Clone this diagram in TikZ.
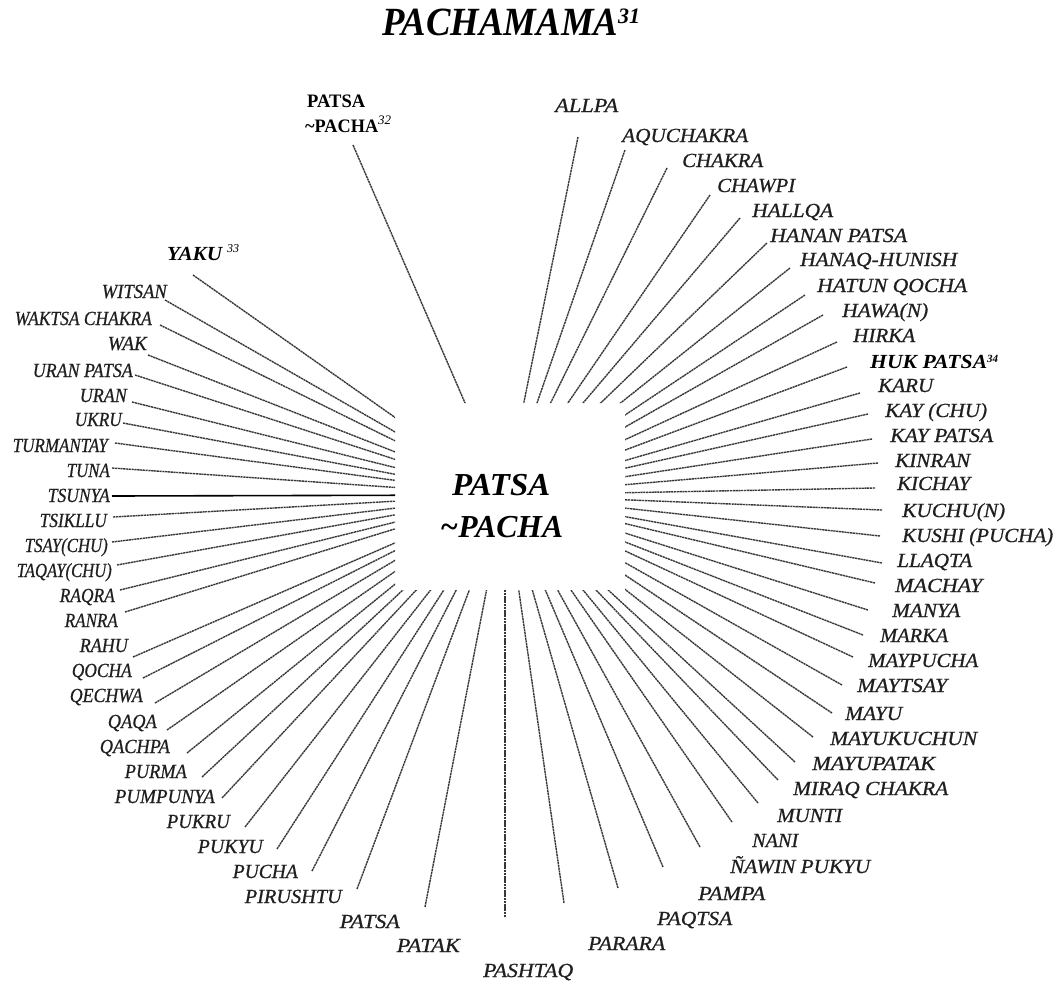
\documentclass[tikz,border=0pt]{standalone}
\usepackage{fontspec}
\setmainfont{Liberation Serif}
\newfontface\labfont{Liberation Serif Italic}[FakeBold=0.7]
\usepackage{graphicx}
\newcommand{\labR}[5]{%
  \pgfmathsetlengthmacro\labw{#3-#2}%
  \node[lab,anchor=base west] (#1) at (#2,#4) {\resizebox{\labw}{\height}{#5}};}
\newcommand{\labL}[5]{%
  \pgfmathsetlengthmacro\labw{#3-#2}%
  \node[lab,anchor=base east] (#1) at (#3,#4) {\resizebox{\labw}{\height}{#5}};}
\newcommand{\rayTo}[3]{\coordinate (r#1) at (#2,#3); \draw[ray] (r#1) -- (C);}
\begin{document}
\begin{tikzpicture}[x=1pt,y=-1pt,
  ray/.style={draw=black!78, line width=1.4pt, dash pattern=on 2.2pt off 0.6pt},
  lab/.style={inner sep=0pt, font=\fontsize{20}{24}\selectfont\labfont, text=black!88},
  bolab/.style={inner sep=0pt, text=black}]
\useasboundingbox (0,0) rectangle (1060,983);
\coordinate (C) at (505,495);
\begin{scope}
\clip (0,0) -- (1060,0) -- (1060,983) -- (0,983) -- cycle
      (395,403) -- (395,590) -- (625,590) -- (625,403) -- cycle;
\rayTo{1}{353}{145}
\rayTo{2}{193}{275}
\rayTo{3}{165}{300}
\rayTo{4}{160}{325}
\rayTo{5}{148}{355}
\rayTo{6}{135}{375}
\rayTo{7}{132}{402}
\rayTo{8}{123}{423}
\rayTo{9}{115}{443}
\rayTo{10}{112}{468}
\coordinate (r11) at (112,496); \draw[black, line width=1.6pt] (r11) -- (C);
\rayTo{12}{113}{517}
\rayTo{13}{112}{542}
\rayTo{14}{117}{565}
\rayTo{15}{120}{590}
\rayTo{16}{125}{612}
\rayTo{17}{133}{657}
\rayTo{18}{143}{678}
\rayTo{19}{155}{703}
\rayTo{20}{167}{730}
\rayTo{21}{187}{753}
\rayTo{22}{202}{777}
\rayTo{23}{222}{798}
\rayTo{24}{245}{827}
\rayTo{25}{277}{849}
\rayTo{26}{312}{871}
\rayTo{27}{357}{889}
\rayTo{28}{425}{907}
\rayTo{29}{505}{917}
\rayTo{30}{564}{903}
\rayTo{31}{618}{888}
\rayTo{32}{663}{867}
\rayTo{33}{700}{847}
\rayTo{34}{732}{822}
\rayTo{35}{758}{803}
\rayTo{36}{778}{780}
\rayTo{37}{795}{762}
\rayTo{38}{813}{737}
\rayTo{39}{832}{713}
\rayTo{40}{842}{685}
\rayTo{41}{853}{657}
\rayTo{42}{863}{635}
\rayTo{43}{868}{610}
\rayTo{44}{875}{583}
\rayTo{45}{882}{563}
\rayTo{46}{880}{536}
\rayTo{47}{882}{510}
\rayTo{48}{875}{488}
\rayTo{49}{878}{463}
\rayTo{50}{872}{439}
\rayTo{51}{868}{414}
\rayTo{52}{860}{393}
\rayTo{53}{847}{367}
\rayTo{54}{837}{342}
\rayTo{55}{823}{315}
\rayTo{56}{805}{295}
\rayTo{57}{790}{268}
\rayTo{58}{767}{243}
\rayTo{59}{740}{218}
\rayTo{60}{710}{195}
\rayTo{61}{667}{168}
\rayTo{62}{625}{150}
\rayTo{63}{578}{137}
\end{scope}

% title
\node[bolab, anchor=base west] (title) at (382,35)
  {\fontsize{40}{44}\selectfont\bfseries\itshape\resizebox{236pt}{\height}{PACHAMAMA}\raisebox{12pt}{\fontsize{22}{22}\selectfont 31}};

% centre
\node[bolab, anchor=base west] (cA) at (452,495)
  {\fontsize{32}{36}\selectfont\bfseries\itshape\resizebox{98pt}{\height}{PATSA}};
\node[bolab, anchor=base west] (cB) at (440,537)
  {\fontsize{32}{36}\selectfont\bfseries\itshape\resizebox{123pt}{\height}{\textasciitilde PACHA}};

% top special labels
\node[bolab, anchor=base west] (tA) at (307,107)
  {\fontsize{19}{22}\selectfont\bfseries\resizebox{58pt}{\height}{PATSA}};
\node[bolab, anchor=base west] (tB) at (305,132)
  {\fontsize{19}{22}\selectfont\bfseries\resizebox{73pt}{\height}{\textasciitilde PACHA}\raisebox{8pt}{\fontsize{13}{13}\selectfont\mdseries\itshape 32}};
\node[bolab, anchor=base west] (yaku) at (167,260)
  {\fontsize{20}{24}\selectfont\bfseries\itshape\resizebox{55pt}{\height}{YAKU}\hspace{5pt}\raisebox{8pt}{\fontsize{12}{12}\selectfont\mdseries 33}};
\node[bolab, anchor=base west] (huk) at (870,368)
  {\fontsize{20}{24}\selectfont\bfseries\itshape\resizebox{117pt}{\height}{HUK PATSA}\raisebox{6pt}{\fontsize{11}{11}\selectfont 34}};

% right labels
\labR{allpa}{555}{618}{112}{ALLPA}
\labR{aquchakra}{622}{748}{142}{AQUCHAKRA}
\labR{chakra}{682}{763}{167}{CHAKRA}
\labR{chawpi}{717}{795}{192}{CHAWPI}
\labR{hallqa}{752}{833}{217}{HALLQA}
\labR{hananpatsa}{770}{907}{242}{HANAN PATSA}
\labR{hanaq}{800}{957}{266}{HANAQ-HUNISH}
\labR{hatun}{817}{967}{292}{HATUN QOCHA}
\labR{hawa}{842}{928}{317}{HAWA(N)}
\labR{hirka}{853}{915}{342}{HIRKA}
\labR{karu}{878}{933}{392}{KARU}
\labR{kaychu}{885}{987}{417}{KAY (CHU)}
\labR{kaypatsa}{890}{993}{442}{KAY PATSA}
\labR{kinran}{895}{970}{467}{KINRAN}
\labR{kichay}{897}{970}{490}{KICHAY}
\labR{kuchun}{902}{1005}{517}{KUCHU(N)}
\labR{kushi}{902}{1053}{542}{KUSHI (PUCHA)}
\labR{llaqta}{897}{972}{567}{LLAQTA}
\labR{machay}{895}{982}{592}{MACHAY}
\labR{manya}{892}{960}{617}{MANYA}
\labR{marka}{880}{948}{642}{MARKA}
\labR{maypucha}{868}{978}{667}{MAYPUCHA}
\labR{maytsay}{857}{947}{692}{MAYTSAY}
\labR{mayu}{845}{902}{720}{MAYU}
\labR{mayukuchun}{830}{977}{745}{MAYUKUCHUN}
\labR{mayupatak}{812}{935}{770}{MAYUPATAK}
\labR{miraq}{793}{948}{795}{MIRAQ CHAKRA}
\labR{munti}{777}{842}{822}{MUNTI}
\labR{nani}{752}{798}{847}{NANI}
\labR{nawin}{730}{870}{873}{ÑAWIN PUKYU}
\labR{pampa}{698}{765}{900}{PAMPA}
\labR{paqtsa}{657}{732}{925}{PAQTSA}
\labR{parara}{588}{665}{950}{PARARA}
\labR{pashtaq}{483}{573}{977}{PASHTAQ}

% left labels
\labL{witsan}{102}{167}{298}{WITSAN}
\labL{waktsa}{15}{152}{325}{WAKTSA CHAKRA}
\labL{wak}{108}{147}{350}{WAK}
\labL{uranpatsa}{33}{133}{377}{URAN PATSA}
\labL{uran}{80}{127}{402}{URAN}
\labL{ukru}{75}{122}{426}{UKRU}
\labL{turmantay}{13}{108}{452}{TURMANTAY}
\labL{tuna}{67}{110}{477}{TUNA}
\labL{tsunya}{48}{110}{502}{TSUNYA}
\labL{tsikllu}{40}{107}{527}{TSIKLLU}
\labL{tsaychu}{25}{108}{552}{TSAY(CHU)}
\labL{taqaychu}{17}{112}{577}{TAQAY(CHU)}
\labL{raqra}{60}{115}{602}{RAQRA}
\labL{ranra}{65}{118}{627}{RANRA}
\labL{rahu}{80}{128}{652}{RAHU}
\labL{qocha}{72}{132}{677}{QOCHA}
\labL{qechwa}{70}{143}{702}{QECHWA}
\labL{qaqa}{108}{157}{728}{QAQA}
\labL{qachpa}{100}{170}{753}{QACHPA}
\labL{purma}{125}{187}{778}{PURMA}
\labL{pumpunya}{115}{215}{803}{PUMPUNYA}
\labL{pukru}{167}{230}{828}{PUKRU}
\labL{pukyu}{198}{263}{853}{PUKYU}
\labL{pucha}{233}{298}{878}{PUCHA}
\labL{pirushtu}{245}{342}{903}{PIRUSHTU}
\labL{patsa}{340}{400}{928}{PATSA}
\labL{patak}{397}{460}{952}{PATAK}
\end{tikzpicture}
\end{document}
